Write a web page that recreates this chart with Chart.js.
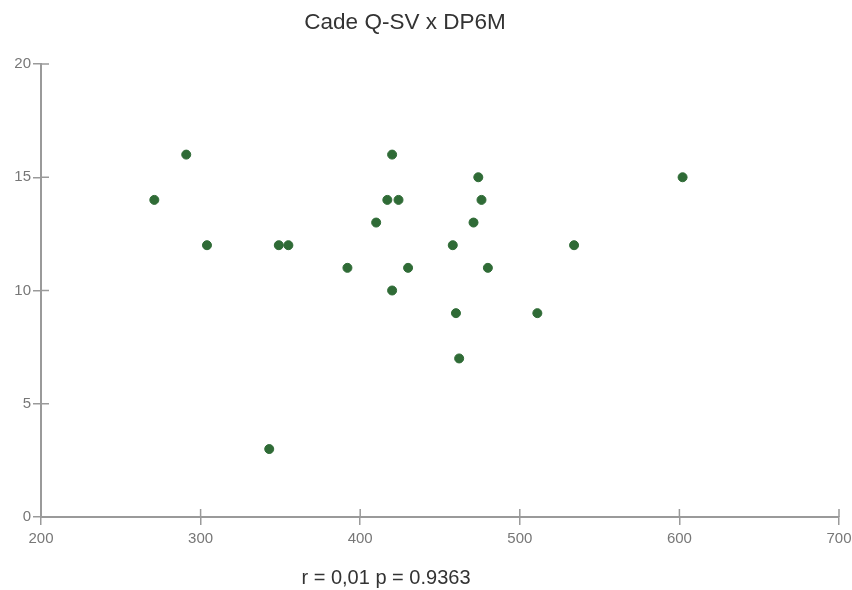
<!DOCTYPE html>
<html>
<head>
<meta charset="utf-8">
<script src="https://cdn.jsdelivr.net/npm/chart.js@4"></script>
<style>
  html, body { margin: 0; padding: 0; background: #fff; }
  #wrap { width: 852px; height: 590px; position: relative; }
</style>
</head>
<body>
<div id="wrap"><canvas id="c" width="852" height="590"></canvas></div>
<script>
const titleText = "Cade Q-SV x DP6M";
const statsText = "r = 0,01 p = 0.9363";
const qsvValues = [271, 291, 304, 349, 355, 343, 392, 410, 417, 424, 420, 420, 430, 458, 471, 474, 476, 480, 460, 462, 511, 534, 602];
const dp6mValues = [14, 16, 12, 12, 12, 3, 11, 13, 14, 14, 16, 10, 11, 12, 13, 15, 14, 11, 9, 7, 9, 12, 15];
const xTicks = [200, 300, 400, 500, 600, 700];
const yTicks = [0, 5, 10, 15, 20];

const points = qsvValues.map((x, i) => ({ x: x, y: dp6mValues[i] }));
const axisColor = "#9a9a9a";
const FONT = "'Liberation Sans', Arial, sans-serif";

const crossTicks = {
  id: "crossTicks",
  afterDraw(chart) {
    const ctx = chart.ctx;
    const xs = chart.scales.x, ys = chart.scales.y;
    ctx.save();
    ctx.strokeStyle = axisColor;
    ctx.lineWidth = 1.5;
    xTicks.forEach(v => {
      const px = xs.getPixelForValue(v);
      ctx.beginPath();
      ctx.moveTo(px, ys.bottom - 8);
      ctx.lineTo(px, ys.bottom);
      ctx.stroke();
    });
    yTicks.forEach(v => {
      const py = ys.getPixelForValue(v);
      ctx.beginPath();
      ctx.moveTo(xs.left, py);
      ctx.lineTo(xs.left + 8, py);
      ctx.stroke();
    });
    ctx.fillStyle = "#333";
    ctx.textAlign = "center";
    ctx.textBaseline = "middle";
    ctx.font = "22.5px " + FONT;
    ctx.fillText(titleText, 405, 23);
    ctx.font = "20px " + FONT;
    ctx.fillText(statsText, 386, 578);
    ctx.restore();
  }
};

new Chart(document.getElementById("c"), {
  type: "scatter",
  data: {
    datasets: [{
      data: points,
      backgroundColor: "#2f6b36",
      borderColor: "#2f6b36",
      pointRadius: 4.5,
      pointHoverRadius: 4.5,
      borderWidth: 1
    }]
  },
  options: {
    responsive: false,
    animation: false,
    events: [],
    layout: { padding: { top: 64, right: 13, left: 1, bottom: 0 } },
    plugins: { legend: { display: false }, tooltip: { enabled: false }, title: { display: false } },
    scales: {
      x: {
        type: "linear",
        min: 200, max: 700,
        afterBuildTicks: s => { s.ticks = xTicks.map(v => ({ value: v })); },
        afterFit: s => { s.height = 73; s.paddingLeft = 0; s.paddingRight = 0; },
        border: { display: true, color: axisColor, width: 2 },
        grid: { display: true, drawOnChartArea: false, drawTicks: true, tickLength: 8, color: axisColor, lineWidth: 1.5 },
        ticks: { color: "#777", font: { family: FONT, size: 15 }, padding: 5, maxRotation: 0 }
      },
      y: {
        type: "linear",
        min: 0, max: 20,
        afterBuildTicks: s => { s.ticks = yTicks.map(v => ({ value: v })); },
        afterFit: s => { s.width = 40; s.paddingTop = 0; s.paddingBottom = 0; },
        border: { display: true, color: axisColor, width: 2 },
        grid: { display: true, drawOnChartArea: false, drawTicks: true, tickLength: 8, color: axisColor, lineWidth: 1.5 },
        ticks: { color: "#777", font: { family: FONT, size: 15 }, padding: 2 }
      }
    }
  },
  plugins: [crossTicks]
});
</script>
</body>
</html>
